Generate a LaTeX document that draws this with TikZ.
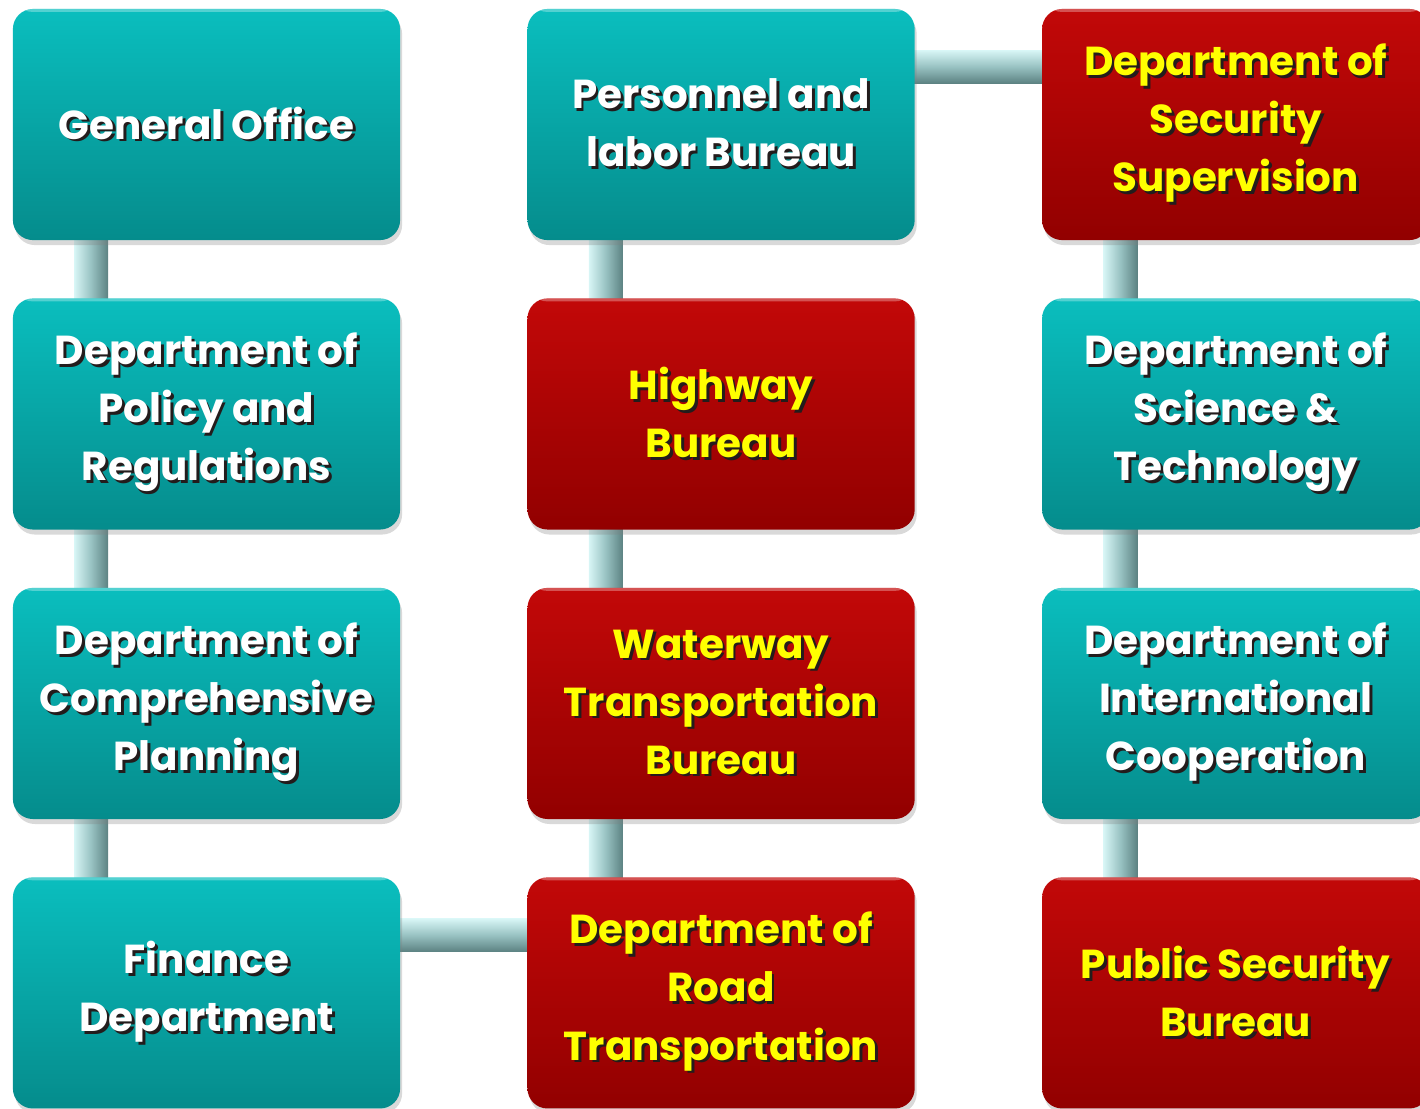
\documentclass[tikz,border=0pt]{standalone}
\usepackage{fontspec}
\setmainfont{Poppins}
\usepackage{tikz}
\usetikzlibrary{calc,shadows,backgrounds}

\definecolor{tealtop}{RGB}{10,190,190}
\definecolor{tealbot}{RGB}{5,140,140}
\definecolor{redtop}{RGB}{194,8,8}
\definecolor{redbot}{RGB}{146,0,0}
\definecolor{barlight}{RGB}{216,246,246}
\definecolor{barmid}{RGB}{152,194,194}
\definecolor{bardark}{RGB}{92,130,130}
\definecolor{txtshadow}{RGB}{35,28,28}
\definecolor{labelyellow}{RGB}{255,255,0}

% one line of text with its shadow
\newcommand{\shl}[1]{\makebox[0pt][l]{\hspace{0.8pt}\raisebox{-0.8pt}{\color{txtshadow}#1}}#1}

\begin{document}
\begin{tikzpicture}[x=0.01cm,y=-0.01cm,node distance=2.893cm,
  unit/.style={rectangle,rounded corners=0.2cm,minimum width=3.87cm,minimum height=2.31cm,
    align=center,font=\fontsize{11.5}{16.5}\selectfont\bfseries,
    drop shadow={shadow xshift=0.02cm,shadow yshift=-0.05cm,opacity=0.3},
    path picture={\fill[white,opacity=0.3] (path picture bounding box.north west) rectangle ([yshift=-0.03cm]path picture bounding box.north east);}},
  tealbox/.style={unit,top color=tealtop,bottom color=tealbot,text=white},
  redbox/.style={unit,top color=redtop,bottom color=redbot,text=labelyellow},
  vbar/.style={left color=barlight,right color=bardark,middle color=barmid},
  hbar/.style={top color=barlight,bottom color=bardark,middle color=barmid}]
  \useasboundingbox (0,0) rectangle (1420,1108);

  \node [tealbox] (gen) at (206.5,124.5) {\shl{General Office}};
  \node [tealbox,below of=gen] (pol) {\shl{Department of}\\\shl{Policy and}\\\shl{Regulations}};
  \node [tealbox,below of=pol] (plan) {\shl{Department of}\\\shl{Comprehensive}\\\shl{Planning}};
  \node [tealbox,below of=plan] (fin) {\shl{Finance}\\\shl{Department}};

  \node [tealbox,right of=gen,xshift=2.25cm] (pers) {\shl{Personnel and}\\\shl{labor Bureau}};
  \node [redbox,below of=pers] (hwy) {\shl{Highway}\\\shl{Bureau}};
  \node [redbox,below of=hwy] (water) {\shl{Waterway}\\\shl{Transportation}\\\shl{Bureau}};
  \node [redbox,below of=water] (road) {\shl{Department of}\\\shl{Road}\\\shl{Transportation}};

  \node [redbox,right of=pers,xshift=2.25cm] (secu) {\shl{Department of}\\\shl{Security}\\\shl{Supervision}};
  \node [tealbox,below of=secu] (sci) {\shl{Department of}\\\shl{Science \&}\\\shl{Technology}};
  \node [tealbox,below of=sci] (intl) {\shl{Department of}\\\shl{International}\\\shl{Cooperation}};
  \node [redbox,below of=intl] (pub) {\shl{Public Security}\\\shl{Bureau}};

  \begin{scope}[on background layer]
    \path[vbar] ($(gen.south west)+(62,-5)$) rectangle ($(pol.north west)+(96,5)$);
    \path[vbar] ($(pol.south west)+(62,-5)$) rectangle ($(plan.north west)+(96,5)$);
    \path[vbar] ($(plan.south west)+(62,-5)$) rectangle ($(fin.north west)+(96,5)$);
    \path[hbar] ($(fin.north east)+(-5,42)$) rectangle ($(road.north west)+(5,75)$);
    \path[vbar] ($(water.south west)+(62,-5)$) rectangle ($(road.north west)+(96,5)$);
    \path[vbar] ($(hwy.south west)+(62,-5)$) rectangle ($(water.north west)+(96,5)$);
    \path[vbar] ($(pers.south west)+(62,-5)$) rectangle ($(hwy.north west)+(96,5)$);
    \path[hbar] ($(pers.north east)+(-5,42)$) rectangle ($(secu.north west)+(5,75)$);
    \path[vbar] ($(secu.south west)+(62,-5)$) rectangle ($(sci.north west)+(96,5)$);
    \path[vbar] ($(sci.south west)+(62,-5)$) rectangle ($(intl.north west)+(96,5)$);
    \path[vbar] ($(intl.south west)+(62,-5)$) rectangle ($(pub.north west)+(96,5)$);
  \end{scope}
\end{tikzpicture}
\end{document}
